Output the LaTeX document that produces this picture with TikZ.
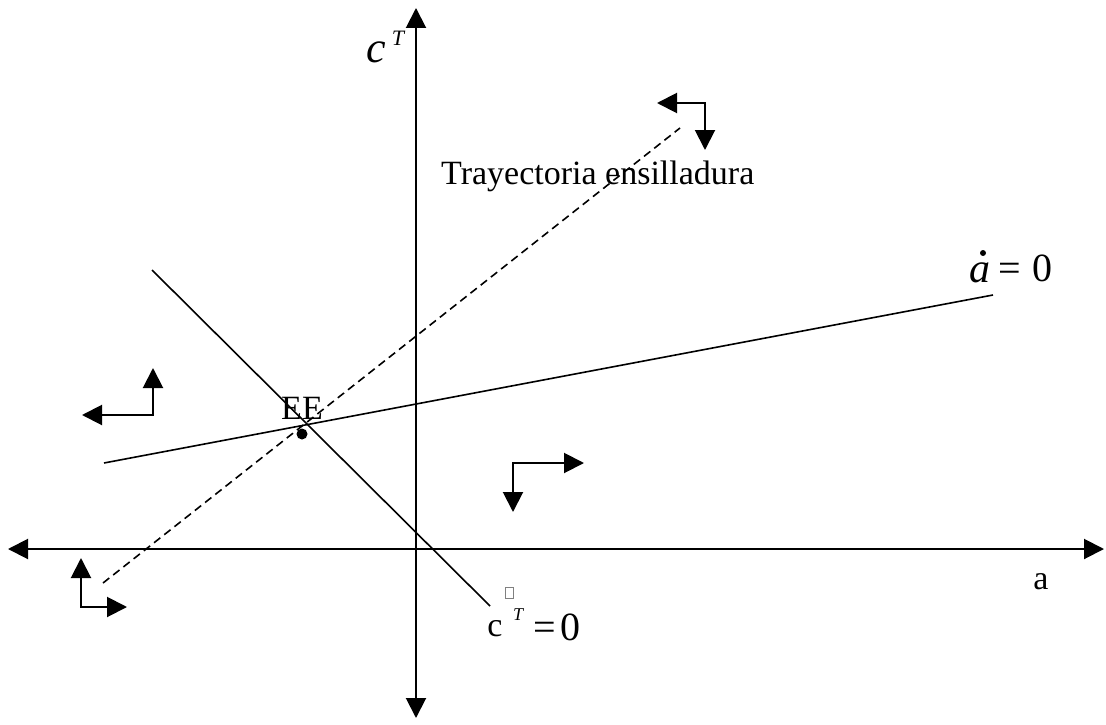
\documentclass[tikz,border=0pt]{standalone}
\usepackage{fontspec}
\setmainfont{Liberation Serif}
\usetikzlibrary{arrows.meta}
\begin{document}
\begin{tikzpicture}[x=1pt,y=-1pt,
  axis/.style={line width=2pt,{Triangle[length=20pt,width=20pt]}-{Triangle[length=20pt,width=20pt]}},
  pair/.style={line width=2pt,{Triangle[length=20pt,width=20pt]}-{Triangle[length=20pt,width=20pt]}},
  curve/.style={line width=1.6pt},
  saddle/.style={line width=1.6pt,dash pattern=on 8pt off 5pt},
  lbl/.style={inner sep=0pt,font=\fontsize{34}{40}\selectfont},
  big/.style={inner sep=0pt,font=\fontsize{40}{46}\selectfont},
]
\useasboundingbox (0,0) rectangle (1106,725);
% axes
\coordinate (xl) at (8,549);
\coordinate (xr) at (1104,549);
\coordinate (yt) at (416,8);
\coordinate (yb) at (416,718);
\draw[axis] (xl) -- (xr);
\draw[axis] (yb) -- (yt);
% curves
\coordinate (adl) at (104,463);
\coordinate (adr) at (993,295);
\draw[curve] (adl) -- (adr);
\coordinate (ctl) at (152,270);
\coordinate (ctr) at (490,606);
\draw[curve] (ctl) -- (ctr);
\coordinate (sdl) at (103,583);
\coordinate (sdr) at (680,128);
\draw[saddle] (sdl) -- (sdr);
% steady state
\node[circle,fill=black,inner sep=0pt,minimum size=11pt] (ee) at (302,434) {};
\node[lbl] (eelbl) at (302,408) {EE};
% direction arrows
\coordinate (c1) at (705,103);
\coordinate (c1a) at (657,103);
\coordinate (c1b) at (705,150);
\draw[pair] (c1a) -- (c1) -- (c1b);
\coordinate (c2) at (153,415);
\coordinate (c2a) at (82,415);
\coordinate (c2b) at (153,368);
\draw[pair] (c2a) -- (c2) -- (c2b);
\coordinate (c3) at (513,463);
\coordinate (c3a) at (584,463);
\coordinate (c3b) at (513,512);
\draw[pair] (c3a) -- (c3) -- (c3b);
\coordinate (c4) at (81,607);
\coordinate (c4a) at (81,558);
\coordinate (c4b) at (127,607);
\draw[pair] (c4a) -- (c4) -- (c4b);
% labels
\node[lbl,anchor=west] (tray) at (441,176) {Trayectoria ensilladura};
\node[lbl] (alab) at (1041,582) {a};
\node[inner sep=0pt,font=\fontsize{44}{50}\selectfont\itshape] (cy) at (376,52) {c};
\node[inner sep=0pt,font=\fontsize{22}{26}\selectfont\itshape] (cyT) at (398,38) {T};
\node[big,font=\fontsize{42}{48}\selectfont\itshape,anchor=base] (adot) at (980,282) {a};
\node[circle,fill=black,inner sep=0pt,minimum size=6pt] (adotdot) at (983,253) {};
\node[big,anchor=base] (adeq) at (1010,281) {=};
\node[big,anchor=base] (adzero) at (1042,281) {0};
\node[inner sep=0pt,font=\fontsize{34}{40}\selectfont,anchor=base] (cb) at (495,636) {c};
\draw[gray,line width=0.6pt] (505,587) rectangle (513,598);
\node[inner sep=0pt,font=\fontsize{18}{22}\selectfont\itshape,anchor=base] (cbT) at (518,620) {T};
\node[big,anchor=base] (cbeq) at (545,640) {=};
\node[big,anchor=base] (cbzero) at (570,640) {0};
\end{tikzpicture}
\end{document}
